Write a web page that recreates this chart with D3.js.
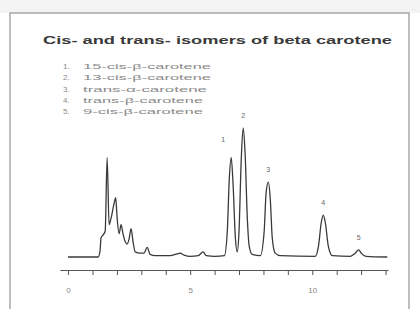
<!DOCTYPE html>
<html>
<head>
<meta charset="utf-8">
<script src="https://cdn.jsdelivr.net/npm/d3@7"></script>
<style>
body { margin: 0; background: #fff; }
</style>
</head>
<body>
<script>
/* chart values */
var title = "Cis- and trans- isomers of beta carotene";
var legendItems = ["15-cis-\u03b2-carotene", "13-cis-\u03b2-carotene", "trans-\u03b1-carotene", "trans-\u03b2-carotene", "9-cis-\u03b2-carotene"];
var legendWidths = [128, 128, 124, 120, 120];

/* trace: retention time (min) and detector signal (% of largest peak) */
var traceTime = [0, 1.23, 1.31, 1.35, 1.43, 1.52, 1.6, 1.68, 1.76, 1.89, 1.95, 2.01, 2.09, 2.17, 2.25, 2.34, 2.42, 2.5, 2.58, 2.66, 2.75, 2.95, 3.11, 3.24, 3.36, 3.57, 4.18, 4.47, 4.59, 4.75, 5.0, 5.33, 5.53, 5.66, 6.02, 6.4, 6.52, 6.6, 6.68, 6.76, 6.85, 6.93, 7.0, 7.09, 7.17, 7.25, 7.34, 7.42, 7.54, 7.87, 8.03, 8.11, 8.2, 8.28, 8.36, 8.48, 8.69, 10.12, 10.25, 10.37, 10.45, 10.53, 10.66, 10.82, 11.56, 11.76, 11.9, 12.0, 12.2, 13.07];
var traceSignal = [0, 0, 5, 15, 17, 20, 77, 25, 30, 42, 46, 30, 18, 25, 18, 12, 10, 14, 22, 12, 4, 3, 3, 7.5, 2, 1, 1, 2.5, 3, 1.5, 0.5, 1, 4, 1, 0.5, 1, 20, 60, 77, 55, 15, 4, 20, 75, 100, 80, 30, 8, 2, 1, 20, 50, 58, 45, 15, 3, 1, 0.5, 8, 27, 32.5, 27, 8, 1, 0.5, 3, 5.5, 3, 0.5, 0];

/* numbered peaks */
var peakNames = ["1", "2", "3", "4", "5"];
var peakTime = [6.68, 7.17, 8.2, 10.45, 11.9];
var peakSignal = [77, 100, 58, 32.5, 5.5];

var xTicks = d3.range(0, 14);
var xLabels = [0, 5, 10];

var svg = d3.select("body").append("svg")
	.attr("width", 420)
	.attr("height", 309);

/* slide frame */
svg.append("rect")
	.attr("x", 0).attr("y", 0).attr("width", 420).attr("height", 13)
	.attr("fill", "#f3f3f3");
svg.append("rect")
	.attr("x", 10).attr("y", 13).attr("width", 399).attr("height", 310)
	.attr("fill", "#fff").attr("stroke", "#a8a8a8").attr("stroke-width", 1.5);

svg.append("text")
	.attr("x", 43).attr("y", 44)
	.attr("textLength", 349).attr("lengthAdjust", "spacingAndGlyphs")
	.style("font-family", "Liberation Sans, Arial, sans-serif")
	.style("font-weight", "bold").style("font-size", "10.5px")
	.attr("fill", "#3a3a3a")
	.text(title);

/* legend list */
var legend = svg.append("g")
	.style("font-family", "Liberation Sans, Arial, sans-serif")
	.style("font-size", "8px")
	.attr("fill", "#8a8a8a");

legendItems.forEach(function(d, i){
	legend.append("text")
		.attr("x", 63).attr("y", 69 + i * 11.3)
		.text((i + 1) + ".");
	legend.append("text")
		.attr("x", 83).attr("y", 69 + i * 11.3)
		.attr("textLength", legendWidths[i]).attr("lengthAdjust", "spacingAndGlyphs")
		.text(d);
});

/* scales */
var x = d3.scaleLinear().domain([-0.33, 13.1]).range([60, 388]);
var y = d3.scaleLinear().domain([0, 100]).range([257, 128]);

var axis = d3.axisBottom(x)
	.tickValues(xTicks)
	.tickSize(5)
	.tickSizeOuter(0)
	.tickFormat(function(d){ return xLabels.indexOf(d) >= 0 ? d : ""; });

var gx = svg.append("g")
	.attr("transform", "translate(0,270)")
	.call(axis);
gx.select(".domain").attr("stroke", "#555");
gx.selectAll(".tick line").attr("stroke", "#555");
gx.selectAll(".tick text")
	.attr("dy", "1.9em")
	.attr("fill", "#888")
	.style("font-family", "Liberation Sans, Arial, sans-serif")
	.style("font-size", "8px");

var trace = traceTime.map(function(t, i){ return [t, traceSignal[i]]; });

var line = d3.line()
	.x(function(d){ return x(d[0]); })
	.y(function(d){ return y(d[1]); })
	.curve(d3.curveMonotoneX);

svg.append("path")
	.datum(trace)
	.attr("d", line)
	.attr("fill", "none")
	.attr("stroke", "#3a3a3a")
	.attr("stroke-width", 1.3);

svg.selectAll(".peak")
	.data(peakNames)
	.enter().append("text")
	.attr("class", "peak")
	.attr("x", function(d, i){ return x(peakTime[i]) - (i == 0 ? 8 : 0); })
	.attr("y", function(d, i){ return y(peakSignal[i]) - (i == 0 ? 16 : 10); })
	.attr("text-anchor", "middle")
	.style("font-family", "Liberation Sans, Arial, sans-serif")
	.style("font-size", "7px")
	.attr("fill", "#666")
	.text(function(d){ return d; });
</script>
</body>
</html>
